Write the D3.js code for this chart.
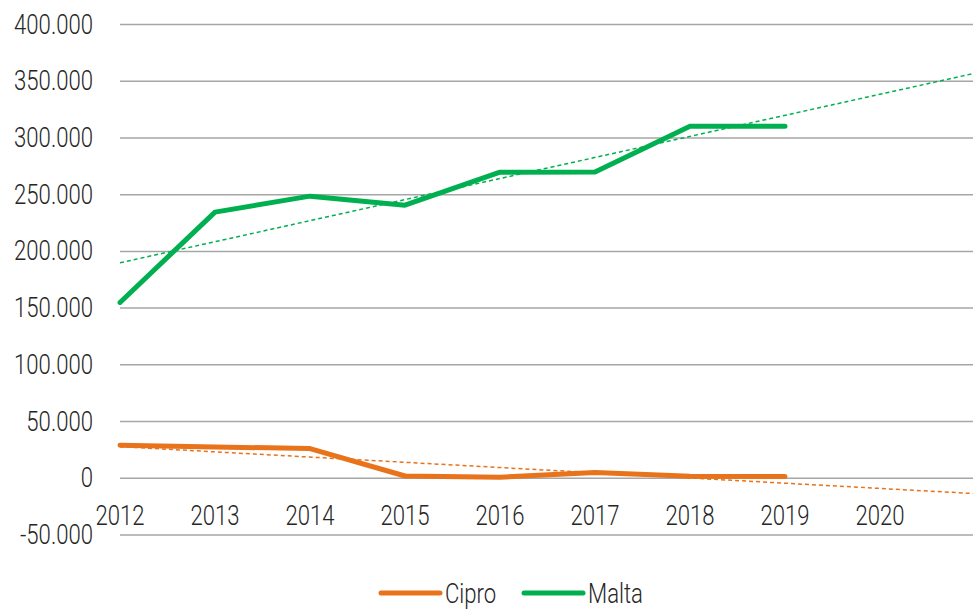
<!DOCTYPE html>
<html>
<head>
<meta charset="utf-8">
<script src="https://cdn.jsdelivr.net/npm/d3@7"></script>
<style>
  body { margin: 0; background: #fff; }
  text { font-family: "Roboto", "Liberation Sans", sans-serif; font-weight: 300; fill: #262626; }
</style>
</head>
<body>
<svg width="973" height="609"></svg>
<script>
const years = [2012, 2013, 2014, 2015, 2016, 2017, 2018, 2019];
const xTicks = [2012, 2013, 2014, 2015, 2016, 2017, 2018, 2019, 2020];
const yTicks = [-50000, 0, 50000, 100000, 150000, 200000, 250000, 300000, 350000, 400000];
const cipro = [29100, 27600, 26200, 2000, 1000, 5000, 1800, 1500];
const malta = [155000, 234600, 248700, 240700, 269800, 270000, 310400, 310400];
const seriesNames = ["Cipro", "Malta"];
const colors = { Cipro: "#E8731A", Malta: "#00B050" };

const svg = d3.select("svg");

const x = d3.scaleLinear().domain([2012, 2021]).range([120, 975]);
const y = d3.scaleLinear().domain([-50000, 400000]).range([535, 24.5]);

const fmt = (v) =>
  v === 0 ? "0" : d3.format(",")(v).replace(/,/g, ".").replace("\u2212", "-");
const squeeze = 0.82; // narrow font look

// gridlines
svg.append("g")
  .selectAll("line")
  .data(yTicks)
  .join("line")
  .attr("x1", 120)
  .attr("x2", 973)
  .attr("y1", (d) => y(d))
  .attr("y2", (d) => y(d))
  .attr("stroke", "#A6A6A6")
  .attr("stroke-width", 1.5);

// y labels
svg.append("g")
  .selectAll("text")
  .data(yTicks)
  .join("text")
  .attr("transform", (d) => `translate(93, ${y(d) + 9}) scale(${squeeze}, 1)`)
  .attr("text-anchor", "end")
  .attr("font-size", 27)
  .text(fmt);

// x labels (sit just under the zero line)
svg.append("g")
  .selectAll("text")
  .data(xTicks)
  .join("text")
  .attr("transform", (d) => `translate(${x(d)}, ${y(0) + 47}) scale(${squeeze}, 1)`)
  .attr("text-anchor", "middle")
  .attr("font-size", 27)
  .text((d) => d);

const data = { Cipro: cipro, Malta: malta };

// linear trendlines (least squares, forecast to right edge)
const trend = (vals) => {
  const mx = d3.mean(years);
  const my = d3.mean(vals);
  const sxy = d3.sum(years, (yr, i) => (yr - mx) * (vals[i] - my));
  const sxx = d3.sum(years, (yr) => (yr - mx) ** 2);
  const b = sxy / sxx;
  return (yr) => my + b * (yr - mx);
};

const line = d3.line()
  .x((d) => x(d[0]))
  .y((d) => y(d[1]));

seriesNames.forEach((name) => {
  const f = trend(data[name]);
  svg.append("path")
    .attr("d", line([[2012, f(2012)], [2021, f(2021)]]))
    .attr("fill", "none")
    .attr("stroke", colors[name])
    .attr("stroke-width", 1.5)
    .attr("stroke-dasharray", "4,3");
});

seriesNames.forEach((name) => {
  svg.append("path")
    .attr("d", line(years.map((yr, i) => [yr, data[name][i]])))
    .attr("fill", "none")
    .attr("stroke", colors[name])
    .attr("stroke-width", 5)
    .attr("stroke-linejoin", "round")
    .attr("stroke-linecap", "round");
});

// legend
const legend = svg.append("g").attr("transform", "translate(380, 593)");
const legendX = { Cipro: 0, Malta: 143 };
seriesNames.forEach((name) => {
  const g = legend.append("g").attr("transform", `translate(${legendX[name]}, 0)`);
  g.append("line")
    .attr("x1", 1).attr("x2", 60)
    .attr("stroke", colors[name])
    .attr("stroke-width", 5)
    .attr("stroke-linecap", "round");
  g.append("text")
    .attr("transform", `translate(65, 10) scale(${squeeze}, 1)`)
    .attr("font-size", 27)
    .text(name);
});
</script>
</body>
</html>
